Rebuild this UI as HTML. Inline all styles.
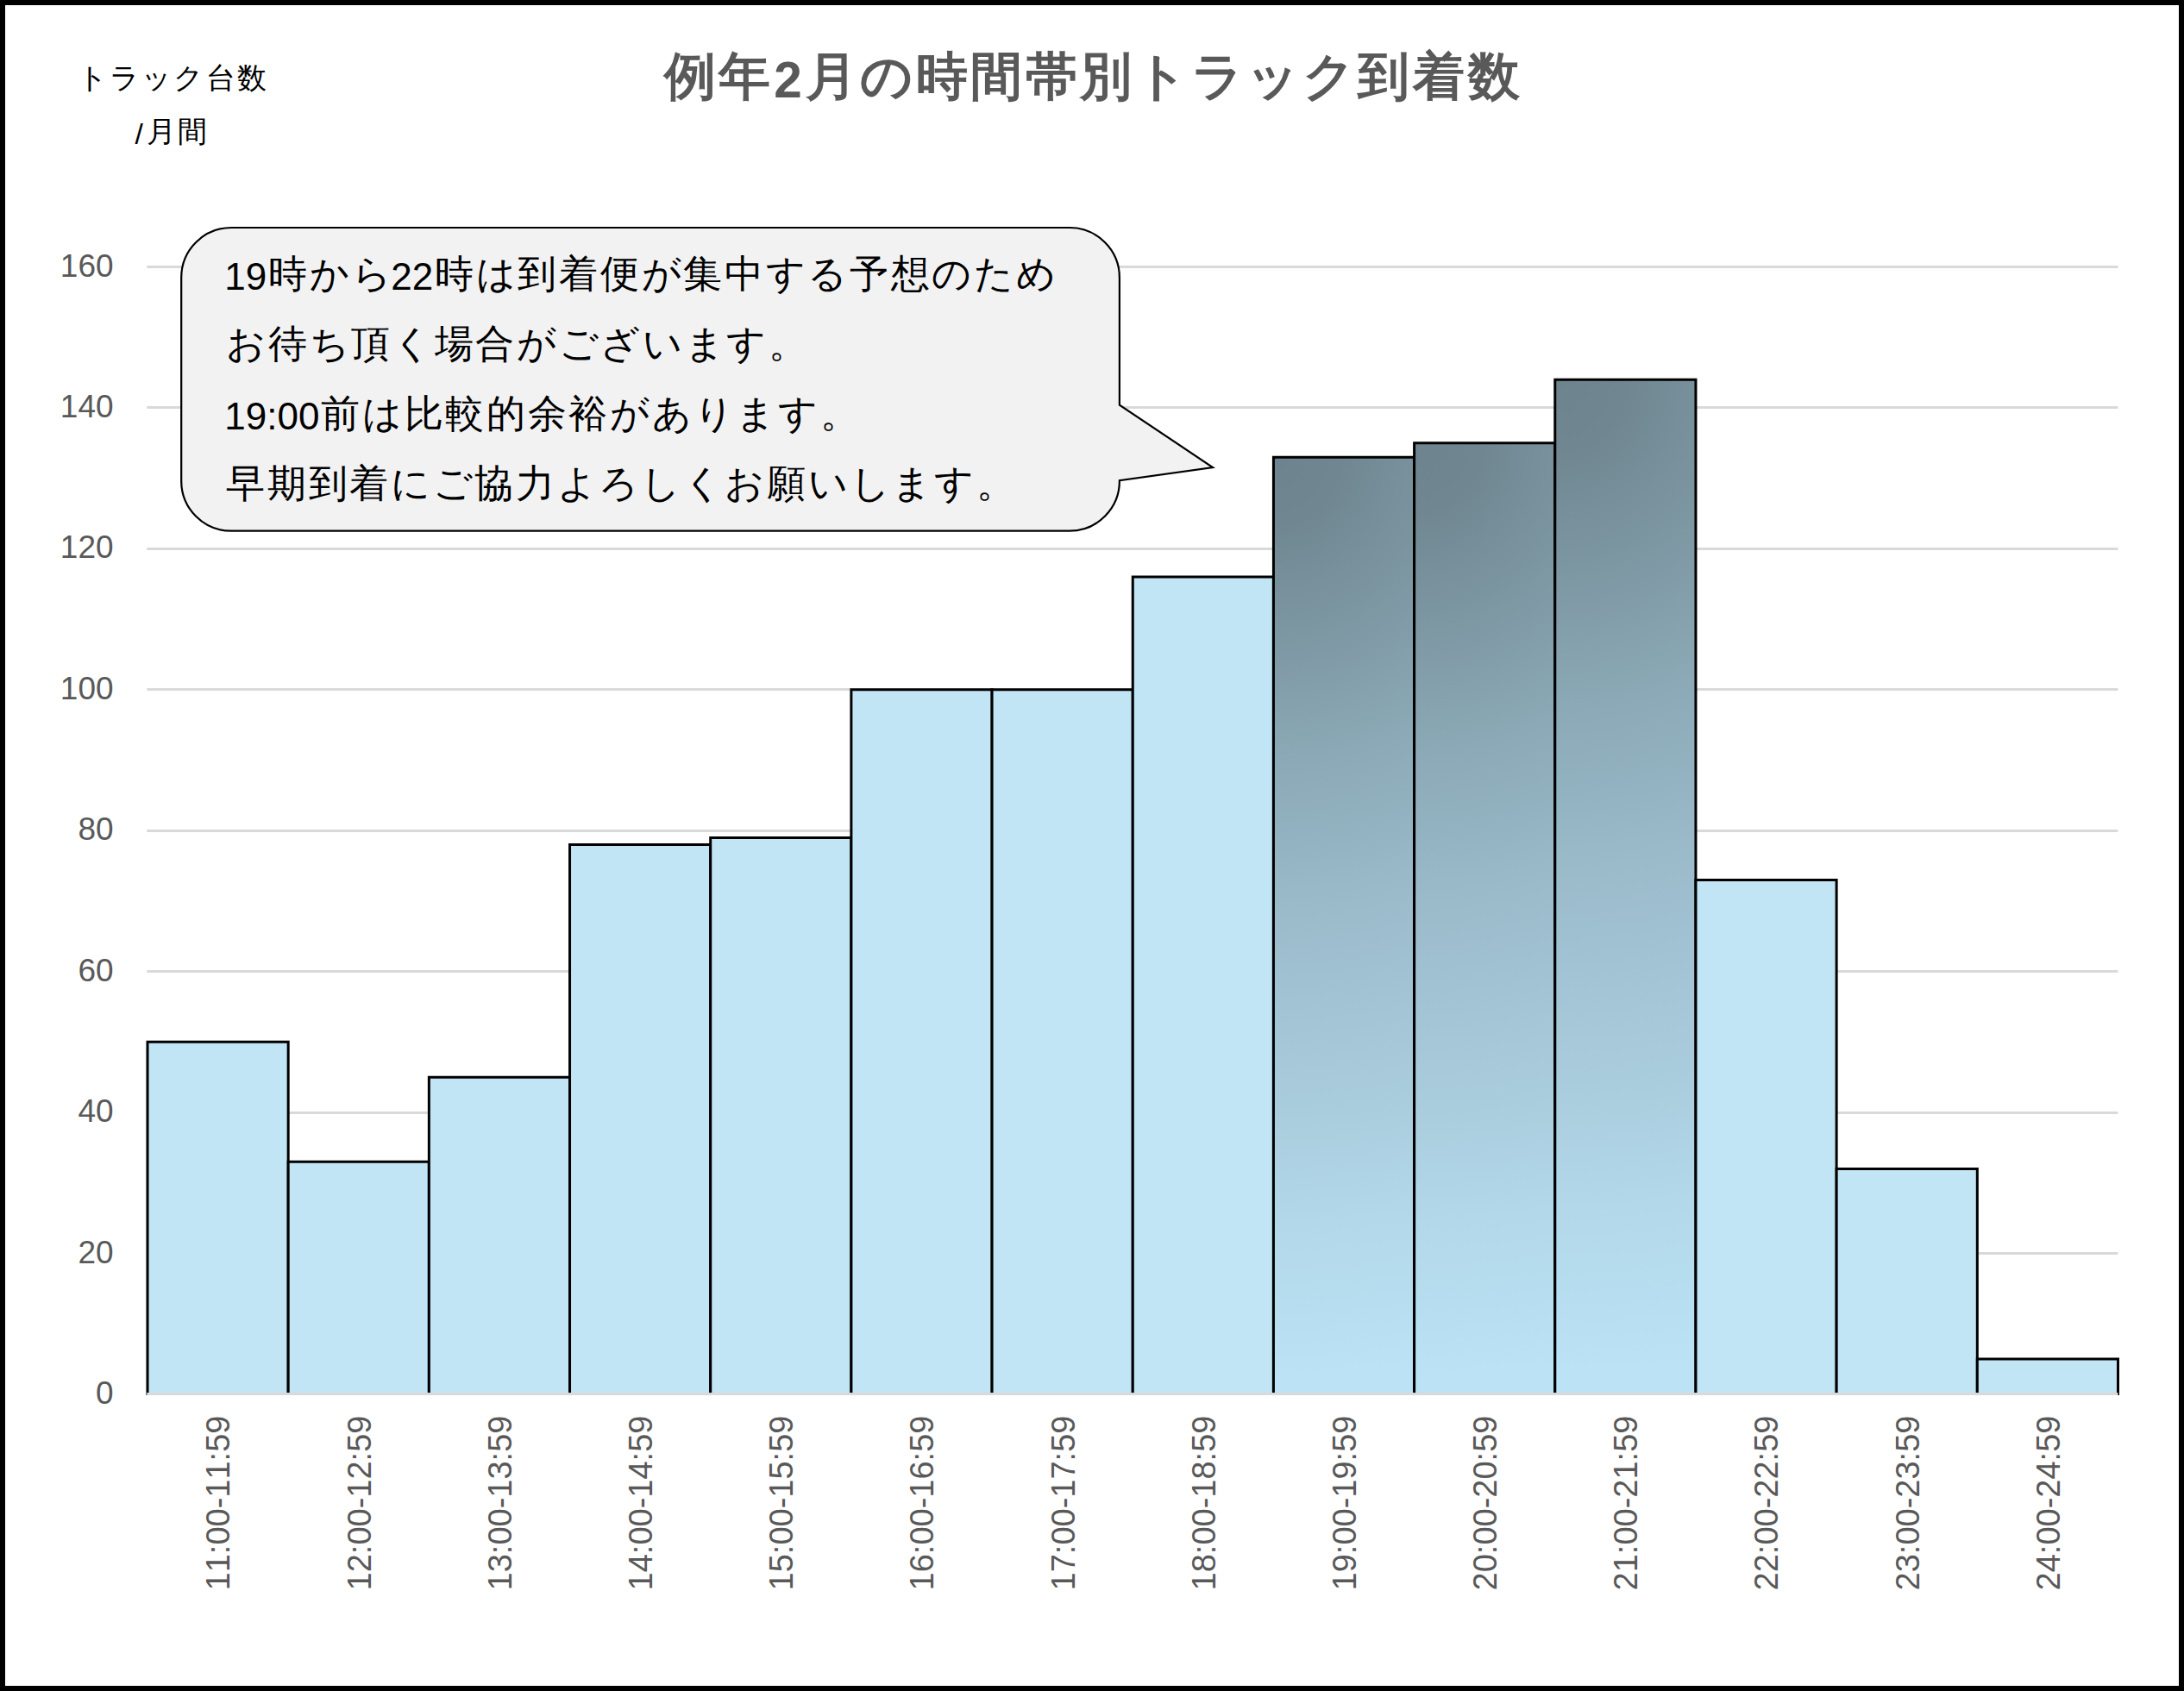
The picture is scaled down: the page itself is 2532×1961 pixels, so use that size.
<!DOCTYPE html>
<html lang="ja"><head><meta charset="utf-8"><title>chart</title>
<style>
html,body{margin:0;padding:0;background:#fff}
body{width:2532px;height:1961px;position:relative;overflow:hidden;font-family:"Liberation Sans",sans-serif}
.frame{position:absolute;left:0;top:0;width:2532px;height:1961px;box-sizing:border-box;border:6px solid #000;pointer-events:none}
svg{position:absolute;left:0;top:0}
text{font-family:"Liberation Sans",sans-serif;font-kerning:none;font-feature-settings:"kern" 0}
</style></head><body>
<svg width="2532" height="1961" viewBox="0 0 2532 1961">
<defs>
<radialGradient id="g8" gradientUnits="userSpaceOnUse" cx="1476.43" cy="530.16" fx="1476.43" fy="530.16" r="1098.93"><stop offset="0" stop-color="rgb(109,132,142)"/><stop offset="0.07" stop-color="rgb(112,135,145)"/><stop offset="0.32" stop-color="rgb(139,169,182)"/><stop offset="0.48" stop-color="rgb(155,187,203)"/><stop offset="0.65" stop-color="rgb(167,201,217)"/><stop offset="0.81" stop-color="rgb(178,216,233)"/><stop offset="0.97" stop-color="rgb(187,227,245)"/><stop offset="1" stop-color="rgb(187,227,245)"/></radialGradient>
<radialGradient id="g9" gradientUnits="userSpaceOnUse" cx="1639.61" cy="513.82" fx="1639.61" fy="513.82" r="1115.09"><stop offset="0" stop-color="rgb(109,132,142)"/><stop offset="0.07" stop-color="rgb(112,135,145)"/><stop offset="0.32" stop-color="rgb(139,169,182)"/><stop offset="0.48" stop-color="rgb(155,187,203)"/><stop offset="0.65" stop-color="rgb(167,201,217)"/><stop offset="0.81" stop-color="rgb(178,216,233)"/><stop offset="0.97" stop-color="rgb(187,227,245)"/><stop offset="1" stop-color="rgb(187,227,245)"/></radialGradient>
<radialGradient id="g10" gradientUnits="userSpaceOnUse" cx="1802.79" cy="440.28" fx="1802.79" fy="440.28" r="1187.89"><stop offset="0" stop-color="rgb(109,132,142)"/><stop offset="0.07" stop-color="rgb(112,135,145)"/><stop offset="0.32" stop-color="rgb(139,169,182)"/><stop offset="0.48" stop-color="rgb(155,187,203)"/><stop offset="0.65" stop-color="rgb(167,201,217)"/><stop offset="0.81" stop-color="rgb(178,216,233)"/><stop offset="0.97" stop-color="rgb(187,227,245)"/><stop offset="1" stop-color="rgb(187,227,245)"/></radialGradient>
</defs>
<rect x="170.3" y="1452" width="2285.10" height="3" fill="#D9D9D9"/>
<rect x="170.3" y="1289" width="2285.10" height="3" fill="#D9D9D9"/>
<rect x="170.3" y="1125" width="2285.10" height="3" fill="#D9D9D9"/>
<rect x="170.3" y="962" width="2285.10" height="3" fill="#D9D9D9"/>
<rect x="170.3" y="798" width="2285.10" height="3" fill="#D9D9D9"/>
<rect x="170.3" y="635" width="2285.10" height="3" fill="#D9D9D9"/>
<rect x="170.3" y="471" width="2285.10" height="3" fill="#D9D9D9"/>
<rect x="170.3" y="308" width="2285.10" height="3" fill="#D9D9D9"/>
<path d="M171.00,1618.10 V1208.35 H334.18 V1618.10" fill="#C1E5F4" stroke="#000" stroke-width="3"/>
<path d="M334.18,1618.10 V1347.26 H497.36 V1618.10" fill="#C1E5F4" stroke="#000" stroke-width="3"/>
<path d="M497.36,1618.10 V1249.21 H660.54 V1618.10" fill="#C1E5F4" stroke="#000" stroke-width="3"/>
<path d="M660.54,1618.10 V979.56 H823.71 V1618.10" fill="#C1E5F4" stroke="#000" stroke-width="3"/>
<path d="M823.71,1618.10 V971.39 H986.89 V1618.10" fill="#C1E5F4" stroke="#000" stroke-width="3"/>
<path d="M986.89,1618.10 V799.80 H1150.07 V1618.10" fill="#C1E5F4" stroke="#000" stroke-width="3"/>
<path d="M1150.07,1618.10 V799.80 H1313.25 V1618.10" fill="#C1E5F4" stroke="#000" stroke-width="3"/>
<path d="M1313.25,1618.10 V669.06 H1476.43 V1618.10" fill="#C1E5F4" stroke="#000" stroke-width="3"/>
<path d="M1476.43,1618.10 V530.16 H1639.61 V1618.10" fill="url(#g8)" stroke="#000" stroke-width="3"/>
<path d="M1639.61,1618.10 V513.82 H1802.79 V1618.10" fill="url(#g9)" stroke="#000" stroke-width="3"/>
<path d="M1802.79,1618.10 V440.28 H1965.96 V1618.10" fill="url(#g10)" stroke="#000" stroke-width="3"/>
<path d="M1965.96,1618.10 V1020.42 H2129.14 V1618.10" fill="#C1E5F4" stroke="#000" stroke-width="3"/>
<path d="M2129.14,1618.10 V1355.43 H2292.32 V1618.10" fill="#C1E5F4" stroke="#000" stroke-width="3"/>
<path d="M2292.32,1618.10 V1576.05 H2455.50 V1618.10" fill="#C1E5F4" stroke="#000" stroke-width="3"/>
<rect x="170.3" y="1615" width="2285.10" height="3" fill="#D9D9D9"/>
<text x="131.6" y="1628.00" text-anchor="end" font-size="37" fill="#595959">0</text>
<text x="131.6" y="1464.58" text-anchor="end" font-size="37" fill="#595959">20</text>
<text x="131.6" y="1301.16" text-anchor="end" font-size="37" fill="#595959">40</text>
<text x="131.6" y="1137.74" text-anchor="end" font-size="37" fill="#595959">60</text>
<text x="131.6" y="974.32" text-anchor="end" font-size="37" fill="#595959">80</text>
<text x="131.6" y="810.90" text-anchor="end" font-size="37" fill="#595959">100</text>
<text x="131.6" y="647.48" text-anchor="end" font-size="37" fill="#595959">120</text>
<text x="131.6" y="484.06" text-anchor="end" font-size="37" fill="#595959">140</text>
<text x="131.6" y="320.64" text-anchor="end" font-size="37" fill="#595959">160</text>
<text transform="translate(266.49,1641.6) rotate(-90)" text-anchor="end" font-size="38" fill="#595959">11:00-11:59</text>
<text transform="translate(429.67,1641.6) rotate(-90)" text-anchor="end" font-size="38" fill="#595959">12:00-12:59</text>
<text transform="translate(592.85,1641.6) rotate(-90)" text-anchor="end" font-size="38" fill="#595959">13:00-13:59</text>
<text transform="translate(756.02,1641.6) rotate(-90)" text-anchor="end" font-size="38" fill="#595959">14:00-14:59</text>
<text transform="translate(919.20,1641.6) rotate(-90)" text-anchor="end" font-size="38" fill="#595959">15:00-15:59</text>
<text transform="translate(1082.38,1641.6) rotate(-90)" text-anchor="end" font-size="38" fill="#595959">16:00-16:59</text>
<text transform="translate(1245.56,1641.6) rotate(-90)" text-anchor="end" font-size="38" fill="#595959">17:00-17:59</text>
<text transform="translate(1408.74,1641.6) rotate(-90)" text-anchor="end" font-size="38" fill="#595959">18:00-18:59</text>
<text transform="translate(1571.92,1641.6) rotate(-90)" text-anchor="end" font-size="38" fill="#595959">19:00-19:59</text>
<text transform="translate(1735.10,1641.6) rotate(-90)" text-anchor="end" font-size="38" fill="#595959">20:00-20:59</text>
<text transform="translate(1898.27,1641.6) rotate(-90)" text-anchor="end" font-size="38" fill="#595959">21:00-21:59</text>
<text transform="translate(2061.45,1641.6) rotate(-90)" text-anchor="end" font-size="38" fill="#595959">22:00-22:59</text>
<text transform="translate(2224.63,1641.6) rotate(-90)" text-anchor="end" font-size="38" fill="#595959">23:00-23:59</text>
<text transform="translate(2387.81,1641.6) rotate(-90)" text-anchor="end" font-size="38" fill="#595959">24:00-24:59</text>
<path d="M268.2,264.0 H1239.9 A58,58 0 0 1 1297.9,322.0 V469.6 L1406,542 L1297.9,557.1 A58,58 0 0 1 1239.9,615.7 H268.2 A58,58 0 0 1 210.2,557.7 V322.0 A58,58 0 0 1 268.2,264.0 Z" fill="#F2F2F2" stroke="#000" stroke-width="2.2"/>
<text x="260.30" y="335.90" font-size="44" fill="#000" font-weight="normal">19</text>
<text x="311.15" y="333.02" font-size="45.31" letter-spacing="2.69" fill="#000" font-weight="normal">時から</text>
<text x="453.23" y="335.90" font-size="44" fill="#000" font-weight="normal">22</text>
<text x="504.08" y="333.02" font-size="45.31" letter-spacing="2.69" fill="#000" font-weight="normal">時は到着便が集中する予想のため</text>
<text x="262.22" y="413.97" font-size="45.31" letter-spacing="2.69" fill="#000" font-weight="normal">お待ち頂く場合がございます。</text>
<text x="260.30" y="497.80" font-size="44" fill="#000" font-weight="normal">19:00</text>
<text x="372.31" y="494.92" font-size="45.31" letter-spacing="2.69" fill="#000" font-weight="normal">前は比較的余裕があります。</text>
<text x="262.22" y="575.87" font-size="45.31" letter-spacing="2.69" fill="#000" font-weight="normal">早期到着にご協力よろしくお願いします。</text>
<text x="769.76" y="108.86" font-size="60.42" letter-spacing="3.58" fill="#595959" font-weight="bold">例年</text>
<text x="897.20" y="112.70" font-size="58.5" fill="#595959" font-weight="bold">2</text>
<text x="933.56" y="108.86" font-size="60.42" letter-spacing="3.58" fill="#595959" font-weight="bold">月の時間帯別トラック到着数</text>
<text x="90.36" y="102.31" font-size="34.46" letter-spacing="2.04" fill="#000" font-weight="normal">トラック台数</text>
<text x="156.40" y="166.60" font-size="33.5" fill="#000" font-weight="normal">/</text>
<text x="169.66" y="164.41" font-size="34.46" letter-spacing="2.04" fill="#000" font-weight="normal">月間</text>
</svg>
<div class="frame"></div>
</body></html>
